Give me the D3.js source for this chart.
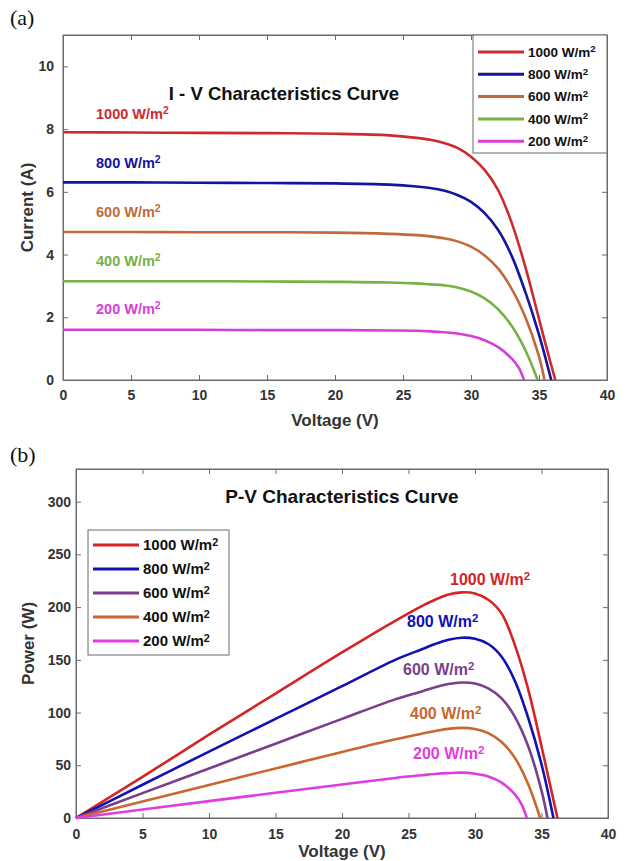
<!DOCTYPE html>
<html>
<head>
<meta charset="utf-8">
<script src="https://cdn.jsdelivr.net/npm/d3@7"></script>
<style>
  body { margin: 0; background: #fff; }
  svg { display: block; font-family: "Liberation Sans", Arial, sans-serif; }
</style>
</head>
<body>
<script>
// irradiance levels and voltage ticks
const irradiance = ["1000", "800", "600", "400", "200"];
const voltageTicks = [0, 5, 10, 15, 20, 25, 30, 35, 40];
const currentTicks = [0, 2, 4, 6, 8, 10];
const powerTicks = [0, 50, 100, 150, 200, 250, 300];

// I-V curves: [voltage, current]
const iv1000 = [[0,7.9],[5,7.89],[10,7.88],[15,7.87],[20,7.85],[24,7.8],[26,7.72],[27,7.66],[28,7.56],[29,7.4],[30,7.12],[31,6.7],[32,6.05],[33,5.0],[34,3.6],[35,1.95],[35.6,0.95],[36.2,0]];
const iv800 = [[0,6.3],[5,6.3],[10,6.29],[15,6.28],[20,6.27],[24,6.23],[26,6.17],[27,6.12],[28,6.04],[29,5.9],[30,5.68],[31,5.32],[32,4.78],[33,3.95],[34,2.8],[35,1.45],[35.9,0]];
const iv600 = [[0,4.72],[5,4.72],[10,4.71],[15,4.71],[20,4.7],[24,4.66],[26,4.62],[27,4.58],[28,4.52],[29,4.42],[30,4.25],[31,3.97],[32,3.55],[33,2.9],[34,2.0],[35,0.75],[35.4,0]];
const iv400 = [[0,3.15],[5,3.15],[10,3.15],[15,3.14],[20,3.13],[24,3.11],[26,3.08],[27,3.05],[28,3.02],[29,2.95],[30,2.82],[31,2.6],[32,2.25],[33,1.72],[34,0.95],[34.9,0]];
const iv200 = [[0,1.6],[5,1.6],[10,1.6],[15,1.59],[20,1.59],[24,1.58],[26,1.57],[27,1.55],[28,1.52],[29,1.48],[30,1.4],[31,1.27],[32,1.05],[33,0.68],[33.5,0.4],[33.9,0]];

// P-V curves: [voltage, power]
const pv1000 = [[0,0],[5,39],[10,79],[15,118],[20,157],[24,187],[26,201],[27,207],[28,212],[29,214],[30,213],[31,207],[32,194],[33,164],[34,122],[35,68],[35.6,34],[36.2,0]];
const pv800 = [[0,0],[5,31.5],[10,63],[15,94],[20,125],[24,150],[26,160],[27,165],[28,169],[29,171],[30,170],[31,165],[32,153],[33,130],[34,95],[35,51],[35.9,0]];
const pv600 = [[0,0],[5,23.6],[10,47],[15,70.5],[20,94],[24,112.5],[26,120],[27,124],[28,127],[29,128.5],[30,127.5],[31,123],[32,113.5],[33,96],[34,68],[35,26],[35.45,0]];
const pv400 = [[0,0],[5,15.7],[10,31.4],[15,47],[20,62.6],[24,74.6],[26,80],[27,82.5],[28,84.5],[29,85.5],[30,84.5],[31,80.5],[32,72],[33,57],[34,32],[34.9,0]];
const pv200 = [[0,0],[5,8],[10,16],[15,23.9],[20,31.8],[24,38],[26,40.6],[27,41.8],[28,42.6],[29,43],[30,42],[31,39.4],[32,33.6],[33,22.4],[33.5,13],[33.9,0]];

const ivColors = ["#cc2a2e", "#14149c", "#c06a3c", "#78b043", "#d63ed8"];
const pvColors = ["#d42424", "#1010b4", "#7a3f8c", "#c8672e", "#e03ce0"];

const svg = d3.select("body")
    .append("svg")
    .attr("width", 632)
    .attr("height", 861);

svg.append("rect").attr("width", 632).attr("height", 861).attr("fill", "#fff");

// text with a superscript 2 on the end
function unitLabel(sel, value) {
  sel.text(value + " W/m");
  sel.append("tspan").attr("dy", "-0.45em").attr("font-size", "0.72em").text("2");
}

function drawPanel(opt) {
  const x = d3.scaleLinear().domain([0, 40]).range([opt.left, opt.right]);
  const y = d3.scaleLinear().domain(opt.yDomain).range([opt.bottom, opt.top]);
  const g = svg.append("g");

  // frame + ticks on all four sides (inward)
  g.append("rect")
      .attr("x", opt.left).attr("y", opt.top)
      .attr("width", opt.right - opt.left).attr("height", opt.bottom - opt.top)
      .attr("fill", "none").attr("stroke", "#6a6a6a");

  const xAxis = g.append("g")
      .attr("transform", `translate(0,${opt.bottom})`)
      .call(d3.axisBottom(x).tickValues(voltageTicks).tickSize(-5).tickPadding(opt.xPad));
  g.append("g")
      .attr("transform", `translate(0,${opt.top})`)
      .call(d3.axisTop(x).tickValues(voltageTicks).tickSize(-5).tickFormat(""));
  const yAxis = g.append("g")
      .attr("transform", `translate(${opt.left},0)`)
      .call(d3.axisLeft(y).tickValues(opt.yTicks).tickSize(-5).tickPadding(opt.yPad));
  g.append("g")
      .attr("transform", `translate(${opt.right},0)`)
      .call(d3.axisRight(y).tickValues(opt.yTicks).tickSize(-5).tickFormat(""));

  g.selectAll(".domain").attr("stroke", "#6a6a6a");
  g.selectAll(".tick line").attr("stroke", "#6a6a6a");
  [xAxis, yAxis].forEach(a => a.selectAll("text")
      .attr("font-size", 14).attr("font-weight", "bold")
      .attr("fill", "#333").attr("font-family", "Liberation Sans, Arial, sans-serif"));

  // curves
  const line = d3.line()
      .x(d => x(d[0]))
      .y(d => y(d[1]))
      .curve(d3.curveCatmullRom.alpha(0.5));

  g.append("g").selectAll("path")
      .data(opt.series)
      .join("path")
      .attr("d", d => line(d))
      .attr("fill", "none")
      .attr("stroke", (d, i) => opt.colors[i])
      .attr("stroke-width", 2.6);

  // titles
  g.append("text")
      .attr("x", opt.titleX).attr("y", opt.titleY)
      .attr("text-anchor", "middle")
      .attr("font-size", opt.titleSize).attr("font-weight", "bold").attr("fill", "#111")
      .text(opt.title);

  g.append("text")
      .attr("x", (opt.left + opt.right) / 2).attr("y", opt.xLabelY)
      .attr("text-anchor", "middle")
      .attr("font-size", 17).attr("font-weight", "bold").attr("fill", "#333")
      .text("Voltage (V)");

  g.append("text")
      .attr("transform", `translate(${opt.yLabelX},${(opt.top + opt.bottom) / 2}) rotate(-90)`)
      .attr("text-anchor", "middle")
      .attr("font-size", 17).attr("font-weight", "bold").attr("fill", "#333")
      .text(opt.yLabel);

  // panel letter
  svg.append("text")
      .attr("x", 10).attr("y", opt.letterY)
      .attr("font-family", "Liberation Serif, Times New Roman, serif")
      .attr("font-size", 22).attr("fill", "#111")
      .text(opt.letter);

  // legend
  const lg = opt.legend;
  g.append("rect")
      .attr("x", lg.x).attr("y", lg.y).attr("width", lg.w).attr("height", lg.h)
      .attr("fill", "#fff").attr("stroke", "#6a6a6a");
  irradiance.forEach((v, i) => {
    const ly = lg.y + lg.first + i * lg.step;
    g.append("line")
        .attr("x1", lg.x + 5).attr("x2", lg.x + 5 + lg.lineLen)
        .attr("y1", ly).attr("y2", ly)
        .attr("stroke", opt.colors[i]).attr("stroke-width", 3);
    g.append("text")
        .attr("x", lg.x + 9 + lg.lineLen).attr("y", ly + lg.fs * 0.36)
        .attr("font-size", lg.fs).attr("font-weight", "bold").attr("fill", "#111")
        .call(unitLabel, v);
  });

  // inline curve labels
  opt.labels.forEach((p, i) => {
    g.append("text")
        .attr("x", p[0]).attr("y", p[1])
        .attr("font-size", opt.labelSize).attr("font-weight", "bold")
        .attr("fill", opt.colors[i])
        .call(unitLabel, irradiance[i]);
  });
}

drawPanel({
  letter: "(a)", letterY: 25,
  left: 63, right: 607, top: 35, bottom: 380,
  yDomain: [0, 11], yTicks: currentTicks,
  xPad: 10, yPad: 9,
  series: [iv1000, iv800, iv600, iv400, iv200],
  colors: ivColors,
  title: "I - V Characteristics Curve", titleX: 284, titleY: 100, titleSize: 18.5,
  xLabelY: 426, yLabelX: 33, yLabel: "Current (A)",
  legend: {x: 473, y: 35, w: 134, h: 118, first: 17, step: 22.3, lineLen: 46, fs: 13.5},
  labels: [[96, 119], [96, 168], [96, 217], [96, 266], [96, 314]],
  labelSize: 14.5
});

drawPanel({
  letter: "(b)", letterY: 462,
  left: 76, right: 608, top: 469, bottom: 818,
  yDomain: [0, 331], yTicks: powerTicks,
  xPad: 11, yPad: 5,
  series: [pv1000, pv800, pv600, pv400, pv200],
  colors: pvColors,
  title: "P-V Characteristics Curve", titleX: 342, titleY: 503, titleSize: 19,
  xLabelY: 857, yLabelX: 34, yLabel: "Power (W)",
  legend: {x: 88, y: 530, w: 141, h: 125, first: 15, step: 24, lineLen: 46, fs: 15},
  labels: [[450, 585], [407, 627], [403, 675], [410, 719], [413, 759]],
  labelSize: 16
});
</script>
</body>
</html>
